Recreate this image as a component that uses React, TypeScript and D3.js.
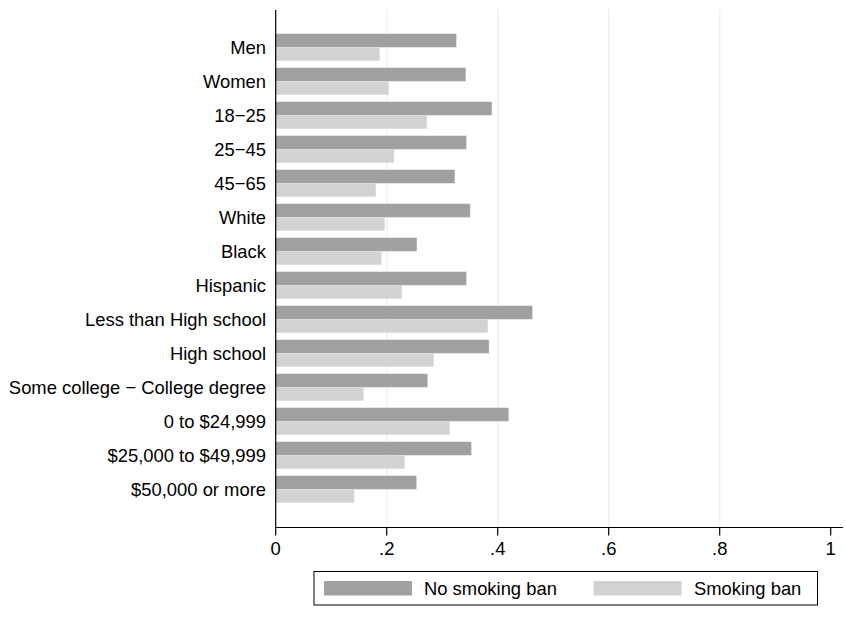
import React from "react";
import * as d3 from "d3";

const categories = [
  "Men",
  "Women",
  "18\u221225",
  "25\u221245",
  "45\u221265",
  "White",
  "Black",
  "Hispanic",
  "Less than High school",
  "High school",
  "Some college \u2212 College degree",
  "0 to $24,999",
  "$25,000 to $49,999",
  "$50,000 or more",
];
const noBan = [0.325, 0.342, 0.389, 0.343, 0.322, 0.35, 0.254, 0.343, 0.462, 0.384, 0.273, 0.419, 0.352, 0.253];
const ban = [0.187, 0.203, 0.272, 0.213, 0.18, 0.196, 0.19, 0.227, 0.382, 0.284, 0.158, 0.313, 0.232, 0.141];
const xTicks = [0, 0.2, 0.4, 0.6, 0.8, 1];
const xTickLabels = ["0", ".2", ".4", ".6", ".8", "1"];
const gridTicks = [0.2, 0.4, 0.6, 0.8];
const seriesNames = ["No smoking ban", "Smoking ban"];
const seriesColors = ["#a0a0a0", "#d2d2d2"];

export default function App() {
  const W = 846, H = 617;
  const x0 = 275.7, x1 = 830.7, yTop = 10, yBot = 527.5;
  const x = d3.scaleLinear().domain([0, 1]).range([x0, x1]);
  const y = d3.scaleBand().domain(categories).range([yTop + 24, yBot - 24.5]).paddingInner(7 / 34).paddingOuter(0);
  const inner = d3.scaleBand().domain(["a", "b"]).range([0, y.bandwidth()]).padding(0);
  const font = "'Liberation Sans', Arial, Helvetica, sans-serif";
  const fs = 18.4;
  const series = [noBan, ban];
  return (
    <svg width={W} height={H} style={{ position: "absolute", left: 0, top: 0, background: "#fff" }} fontFamily={font}>
      <rect x={0} y={0} width={W} height={H} fill="#fff" />
      {gridTicks.map((t) => (
        <line key={t} x1={x(t)} x2={x(t)} y1={yTop - 1} y2={yBot} stroke="#eaf2f3" strokeWidth={1.5} />
      ))}
      {categories.map((c, i) => (
        <g key={c}>
          {series.map((s, j) => (
            <rect
              key={j}
              x={x(0)}
              y={(y(c) as number) + (inner(j === 0 ? "a" : "b") as number)}
              width={x(s[i]) - x(0)}
              height={inner.bandwidth() - 0.5}
              fill={seriesColors[j]}
              stroke={j === 0 ? "#acacac" : "#dadada"}
              strokeWidth={0.6}
            />
          ))}
          <text
            x={266}
            y={(y(c) as number) + y.bandwidth() / 2}
            textAnchor="end"
            dominantBaseline="central"
            fontSize={fs}
            fill="#000"
          >
            {c}
          </text>
        </g>
      ))}
      <line x1={x0} x2={x0} y1={yTop} y2={yBot} stroke="#000" strokeWidth={1.2} />
      <line x1={x0 - 0.6} x2={843} y1={yBot} y2={yBot} stroke="#000" strokeWidth={1.2} />
      {xTicks.map((t, i) => (
        <g key={t}>
          <line x1={x(t)} x2={x(t)} y1={yBot} y2={yBot + 8} stroke="#000" strokeWidth={1.2} />
          <text x={x(t)} y={yBot + 21} textAnchor="middle" dominantBaseline="central" fontSize={fs} fill="#000">
            {xTickLabels[i]}
          </text>
        </g>
      ))}
      <rect x={314} y={571.5} width={503.5} height={33.5} fill="#fff" stroke="#000" strokeWidth={1} />
      {seriesNames.map((n, j) => (
        <g key={n}>
          <rect x={j === 0 ? 324 : 593.5} y={581} width={88} height={14.5} fill={seriesColors[j]} />
          <text x={j === 0 ? 424 : 694} y={588.5} dominantBaseline="central" fontSize={fs} fill="#000">
            {n}
          </text>
        </g>
      ))}
    </svg>
  );
}
